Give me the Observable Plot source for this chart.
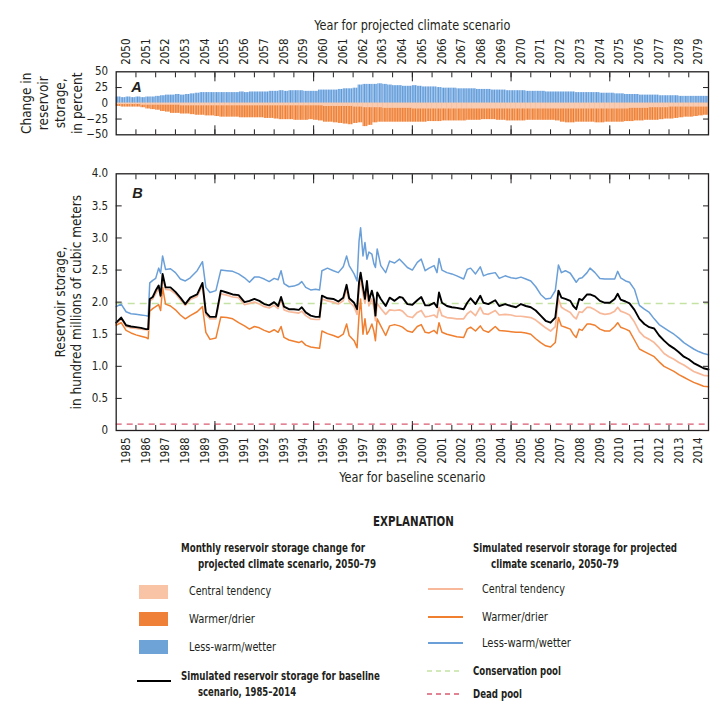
<!DOCTYPE html>
<html><head><meta charset="utf-8">
<script src="https://cdn.jsdelivr.net/npm/d3@7"></script>
<script src="https://cdn.jsdelivr.net/npm/@observablehq/plot@0.6"></script>
<style>
body{margin:0;background:#fff;}
#root{position:relative;width:714px;height:716px;font-family:"Liberation Sans Narrow","DejaVu Sans Condensed","Arial Narrow",sans-serif;color:#231f20;overflow:hidden;}
#root svg{position:absolute;left:0;}
.t{position:absolute;white-space:nowrap;line-height:16px;font-size:12.8px;transform-origin:0 50%;}
.b{font-weight:bold;}
.sw{position:absolute;width:29px;height:14px;}
</style></head><body><div id="root"></div>
<script>
// ---------- DATA ----------
// Panel A: quarterly change in reservoir storage (percent), 2050–2079
const wetterChange = [
 10,9,10,9, 10,9,10,10, 11,12,13,13, 14,13,14,15, 16,17,17,17, 17,17,17,17,
 17,18,17,18, 18,18,18,19, 19,20,19,20, 20,20,19,19, 19,21,21,21, 21,22,23,23,
 24,29,30,30, 30,31,30,29, 28,28,27,27, 28,27,26,26, 26,25,24,24, 24,23,23,23,
 23,22,22,22, 21,21,21,20, 20,20,20,19, 19,19,19,18, 18,18,18,18, 18,17,17,17,
 17,17,16,16, 16,15,15,14, 14,14,13,13, 13,13,12,12, 12,12,11,11, 11,11,11,11];
const drierChange = [
 -5,-6,-6,-6, -6,-7,-9,-10, -11,-13,-14,-16, -16,-17,-17,-18, -19,-19,-20,-20, -21,-22,-22,-22,
 -22,-23,-23,-23, -23,-23,-24,-24, -25,-26,-26,-26, -27,-27,-27,-26, -27,-28,-30,-30, -31,-32,-33,-34,
 -32,-31,-37,-35, -31,-30,-30,-30, -30,-30,-30,-30, -30,-30,-30,-29, -29,-29,-28,-28, -28,-28,-28,-27,
 -27,-27,-26,-26, -26,-27,-27,-28, -28,-28,-28,-27, -27,-27,-27,-27, -27,-28,-30,-31, -31,-30,-30,-30,
 -30,-31,-31,-30, -30,-30,-30,-29, -29,-28,-28,-27, -27,-27,-26,-25, -25,-24,-23,-22, -22,-21,-20,-19];
const centralChange = [
 -2,-2,-2,-2, -2,-3,-3,-3, -3,-3,-3,-3, -3,-4,-4,-4, -4,-4,-4,-4, -4,-4,-4,-4,
 -4,-4,-4,-4, -4,-4,-4,-4, -4,-4,-4,-4, -4,-4,-4,-4, -4,-4,-5,-5, -5,-5,-5,-5,
 -6,-6,-7,-7, -7,-7,-8,-8, -8,-8,-8,-8, -9,-9,-9,-9, -9,-9,-9,-9, -9,-9,-9,-9,
 -9,-9,-9,-9, -9,-9,-9,-9, -9,-9,-9,-9, -9,-9,-9,-9, -9,-9,-9,-9, -9,-9,-9,-9,
 -9,-9,-9,-9, -9,-9,-9,-9, -8,-8,-8,-8, -7,-7,-7,-7, -6,-6,-6,-6, -6,-6,-6,-6];

// Panel B: simulated reservoir storage (hundred millions of cubic meters)
const storageTime = [1985.00,1985.25,1985.50,1985.75,1986.00,1986.25,1986.50,1986.62,1986.70,1986.85,
 1987.00,1987.15,1987.25,1987.35,1987.50,1987.75,1988.00,1988.25,1988.50,1988.75,
 1989.10,1989.37,1989.54,1989.75,1990.05,1990.30,1990.60,1990.90,1991.20,1991.50,
 1991.75,1992.00,1992.25,1992.50,1992.75,1993.00,1993.20,1993.35,1993.50,1993.75,
 1994.00,1994.25,1994.40,1994.60,1994.85,1995.10,1995.30,1995.42,1995.70,1996.00,
 1996.25,1996.50,1996.67,1996.80,1997.05,1997.20,1997.30,1997.38,1997.50,1997.60,
 1997.70,1997.80,1997.95,1998.05,1998.13,1998.22,1998.40,1998.65,1998.85,1999.10,
 1999.35,1999.50,1999.75,2000.00,2000.25,2000.45,2000.65,2000.85,2001.10,2001.25,
 2001.35,2001.50,2001.75,2002.00,2002.25,2002.60,2002.78,2002.95,2003.20,2003.44,
 2003.60,2003.85,2004.20,2004.40,2004.70,2005.00,2005.25,2005.50,2005.75,2006.00,
 2006.25,2006.50,2006.75,2007.00,2007.24,2007.40,2007.55,2007.75,2008.00,2008.15,
 2008.30,2008.45,2008.60,2008.85,2009.00,2009.25,2009.50,2009.75,2010.00,2010.25,
 2010.40,2010.55,2010.80,2011.00,2011.25,2011.50,2011.75,2012.00,2012.25,2012.50,
 2012.75,2013.00,2013.25,2013.50,2013.75,2014.00,2014.25,2014.50,2014.75,2015.00];
const baselineStorage = [1.68,1.76,1.64,1.62,1.61,1.60,1.58,1.58,2.05,2.08,
 2.18,2.26,2.10,2.44,2.23,2.23,2.16,2.07,1.97,2.07,
 2.12,2.30,1.84,1.77,1.77,2.18,2.15,2.12,2.11,2.00,
 2.02,2.05,2.02,1.97,1.95,2.00,1.94,2.08,1.93,1.89,
 1.89,1.88,1.92,1.84,1.79,1.77,1.77,2.10,2.06,2.05,
 2.01,2.07,2.27,2.06,1.99,1.89,2.31,2.46,2.23,2.05,
 2.33,2.02,2.18,2.05,1.79,2.15,2.05,1.94,2.07,2.02,
 2.08,2.07,1.97,1.96,2.03,2.08,1.95,1.95,1.99,1.92,
 2.15,1.99,1.94,1.92,1.91,1.89,1.99,2.06,1.97,2.10,
 1.99,1.97,2.03,1.94,1.97,1.94,1.92,1.97,1.94,1.92,
 1.87,1.79,1.71,1.68,1.76,2.18,2.07,2.05,2.02,1.94,
 1.89,2.05,2.03,2.12,2.12,2.09,2.02,1.99,1.99,2.05,
 2.13,2.04,2.01,1.98,1.88,1.74,1.66,1.61,1.59,1.48,
 1.40,1.33,1.28,1.22,1.15,1.11,1.05,1.01,0.97,0.95];
const centralStorage = [1.66,1.74,1.62,1.60,1.59,1.58,1.57,1.56,2.02,2.05,
 2.13,2.22,2.08,2.38,2.20,2.19,2.13,2.04,1.95,2.04,
 2.09,2.26,1.80,1.74,1.74,2.13,2.11,2.08,2.07,1.96,
 1.98,2.00,1.97,1.93,1.91,1.95,1.90,2.04,1.88,1.85,
 1.84,1.83,1.86,1.79,1.74,1.73,1.73,2.05,2.02,2.00,
 1.97,2.02,2.20,2.01,1.93,1.81,2.20,2.36,2.12,1.98,
 2.22,1.94,2.05,1.92,1.71,1.98,1.90,1.81,1.88,1.87,
 1.88,1.86,1.78,1.76,1.84,1.87,1.77,1.78,1.80,1.76,
 1.92,1.79,1.76,1.75,1.74,1.74,1.82,1.86,1.79,1.92,
 1.82,1.81,1.87,1.80,1.81,1.80,1.78,1.78,1.77,1.76,
 1.72,1.66,1.60,1.55,1.62,2.05,1.92,1.88,1.84,1.78,
 1.74,1.85,1.84,1.92,1.92,1.88,1.83,1.81,1.82,1.86,
 1.92,1.86,1.83,1.80,1.69,1.54,1.46,1.42,1.37,1.29,
 1.20,1.15,1.11,1.06,1.02,0.97,0.92,0.89,0.86,0.85];
const drierStorage = [1.64,1.68,1.56,1.52,1.49,1.47,1.45,1.43,1.86,1.90,
 1.93,1.96,1.87,2.23,1.97,1.94,1.88,1.80,1.74,1.79,
 1.85,1.93,1.53,1.42,1.44,1.77,1.76,1.74,1.68,1.63,
 1.58,1.62,1.60,1.56,1.53,1.57,1.53,1.62,1.45,1.41,
 1.39,1.37,1.39,1.33,1.30,1.29,1.28,1.55,1.51,1.48,
 1.45,1.50,1.66,1.48,1.40,1.29,1.80,2.05,1.50,1.74,
 1.50,1.55,1.66,1.55,1.40,1.74,1.63,1.48,1.63,1.65,
 1.63,1.61,1.55,1.53,1.62,1.65,1.53,1.52,1.56,1.51,
 1.68,1.53,1.50,1.48,1.46,1.45,1.58,1.61,1.55,1.63,
 1.56,1.53,1.62,1.56,1.55,1.54,1.53,1.53,1.52,1.50,
 1.43,1.37,1.32,1.30,1.37,1.76,1.63,1.61,1.58,1.50,
 1.45,1.58,1.56,1.66,1.66,1.64,1.58,1.55,1.55,1.62,
 1.68,1.61,1.58,1.55,1.41,1.27,1.23,1.19,1.15,1.07,
 1.00,0.96,0.92,0.87,0.83,0.79,0.75,0.72,0.69,0.68];
const wetterStorage = [1.93,1.97,1.85,1.82,1.81,1.80,1.79,1.78,2.30,2.34,
 2.37,2.53,2.45,2.72,2.51,2.52,2.46,2.36,2.33,2.38,
 2.49,2.63,2.23,2.15,2.18,2.50,2.49,2.48,2.44,2.38,
 2.31,2.39,2.39,2.36,2.32,2.37,2.35,2.49,2.29,2.24,
 2.25,2.28,2.32,2.23,2.19,2.20,2.19,2.49,2.53,2.49,
 2.46,2.55,2.72,2.57,2.44,2.33,2.95,3.16,2.72,2.93,
 2.67,2.78,2.75,2.60,2.54,2.83,2.57,2.46,2.64,2.61,
 2.67,2.62,2.54,2.50,2.62,2.67,2.49,2.53,2.57,2.46,
 2.68,2.50,2.46,2.44,2.41,2.36,2.51,2.53,2.44,2.55,
 2.41,2.44,2.46,2.37,2.41,2.38,2.37,2.39,2.36,2.33,
 2.24,2.12,2.05,2.06,2.18,2.58,2.46,2.49,2.45,2.38,
 2.31,2.37,2.38,2.46,2.53,2.46,2.37,2.36,2.36,2.36,
 2.48,2.38,2.33,2.31,2.20,1.95,1.89,1.84,1.74,1.65,
 1.60,1.55,1.50,1.44,1.37,1.32,1.27,1.23,1.20,1.18];
const conservationPool = 1.98;
const deadPool = 0.1;

const projectedYears = d3.range(2050, 2080);
const baselineYears = d3.range(1985, 2015);
const changeTicks = [-50, -25, 0, 25, 50];
const storageTicks = [0, 0.5, 1, 1.5, 2, 2.5, 3, 3.5, 4];

// ---------- BUILD ----------
const FONT = '"Liberation Sans Narrow","DejaVu Sans Condensed","Arial Narrow",sans-serif';
const INK = "#231f20";
const COLORS = {wet: "#6a9fd8", dry: "#f07f30", central: "#f7b99a", base: "#000", cons: "#c3e2a3", dead: "#d95b70"};
const bars = wetterChange.map((w, i) => ({
  t0: 2050 + i / 4, t1: 2050 + (i + 1) / 4,
  wet: w, dry: drierChange[i], central: centralChange[i]
}));
const storage = storageTime.map((t, i) => ({
  t, base: baselineStorage[i], central: centralStorage[i], dry: drierStorage[i], wet: wetterStorage[i]
}));

function innerTicksX(years, fiveYears) {
  return [
    Plot.axisX(years, {anchor: "top", tickSize: -5, text: null, label: null, stroke: INK}),
    Plot.axisX(years, {anchor: "bottom", tickSize: -5, text: null, label: null, stroke: INK}),
    Plot.axisX(fiveYears, {anchor: "top", tickSize: -9, text: null, label: null, stroke: INK}),
    Plot.axisX(fiveYears, {anchor: "bottom", tickSize: -9, text: null, label: null, stroke: INK})
  ];
}

const plotA = Plot.plot({
  width: 714, height: 140,
  marginLeft: 115.7, marginRight: 6, marginTop: 71.3, marginBottom: 5.7,
  style: {fontFamily: FONT, fontSize: "11.5px", color: INK, background: "transparent", overflow: "visible"},
  x: {domain: [2050, 2080]},
  y: {domain: [-50, 50]},
  marks: [
    Plot.rectY(bars, {x1: "t0", x2: "t1", y: "wet", fill: "url(#stripeBlue)"}),
    Plot.rectY(bars, {x1: "t0", x2: "t1", y: "dry", fill: "url(#stripeOrange)"}),
    Plot.rectY(bars, {x1: "t0", x2: "t1", y: "central", fill: "#f9ccb1"}),
    Plot.frame({stroke: INK, strokeWidth: 1.3}),
    Plot.axisX(projectedYears.map(d => d + 0.5), {anchor: "top", tickSize: 0, tickPadding: 7, tickRotate: -90, tickFormat: d => String(Math.floor(d)), label: null, fontSize: 11.5}),
    ...innerTicksX(projectedYears.slice(1), projectedYears.filter(d => d % 5 === 0 && d > 2050)),
    Plot.axisY(changeTicks, {anchor: "left", tickSize: 0, tickPadding: 8, label: null, fontSize: 11.5}),
    Plot.axisY([-25, 25], {anchor: "left", tickSize: -6, text: null, label: null}),
    Plot.axisY([-25, 25], {anchor: "right", tickSize: -6, text: null, label: null}),
    Plot.text(["A"], {text: d => d, frameAnchor: "top-left", dx: 15, dy: 10, fontWeight: "bold", fontStyle: "italic", fontSize: 14.5, fontFamily: "Liberation Sans, Arial, sans-serif"}),
    Plot.text(["Year for projected climate scenario"], {text: d => d, frameAnchor: "top", dy: -46, lineAnchor: "middle", fontSize: 13.5}),
    Plot.text(["Change in\nreservoir\nstorage,\nin percent"], {text: d => d, frameAnchor: "left", dx: -65, rotate: -90, textAnchor: "middle", lineAnchor: "middle", lineHeight: 1.24, fontSize: 13.5})
  ]
});

const plotB = Plot.plot({
  width: 714, height: 350,
  marginLeft: 115.7, marginRight: 6, marginTop: 33.3, marginBottom: 60,
  style: {fontFamily: FONT, fontSize: "11.5px", color: INK, background: "transparent", overflow: "visible"},
  x: {domain: [1985, 2015]},
  y: {domain: [0, 4]},
  marks: [
    Plot.ruleY([conservationPool], {stroke: COLORS.cons, strokeDasharray: "7,5", strokeWidth: 1.4}),
    Plot.ruleY([deadPool], {stroke: COLORS.dead, strokeDasharray: "6,5", strokeWidth: 1.3}),
    Plot.line(storage, {x: "t", y: "wet", stroke: COLORS.wet, strokeWidth: 1.5}),
    Plot.line(storage, {x: "t", y: "dry", stroke: COLORS.dry, strokeWidth: 1.5}),
    Plot.line(storage, {x: "t", y: "central", stroke: COLORS.central, strokeWidth: 1.7}),
    Plot.line(storage, {x: "t", y: "base", stroke: COLORS.base, strokeWidth: 1.9}),
    Plot.frame({stroke: INK, strokeWidth: 1.3}),
    Plot.axisX(baselineYears.map(d => d + 0.5), {anchor: "bottom", tickSize: 0, tickPadding: 7, tickRotate: -90, tickFormat: d => String(Math.floor(d)), label: null, fontSize: 11.5}),
    ...innerTicksX(baselineYears.slice(1), baselineYears.filter(d => d % 5 === 0 && d > 1985)),
    Plot.axisY(storageTicks, {anchor: "left", tickSize: 0, tickPadding: 8, label: null, fontSize: 11.5, tickFormat: d => d === 0 ? "0" : d.toFixed(1)}),
    Plot.axisY(storageTicks.slice(1, -1), {anchor: "left", tickSize: -6, text: null, label: null}),
    Plot.axisY(storageTicks.slice(1, -1), {anchor: "right", tickSize: -6, text: null, label: null}),
    Plot.text(["B"], {text: d => d, frameAnchor: "top-left", dx: 16, dy: 14, fontWeight: "bold", fontStyle: "italic", fontSize: 14.5, fontFamily: "Liberation Sans, Arial, sans-serif"}),
    Plot.text(["Year for baseline scenario"], {text: d => d, frameAnchor: "bottom", dy: 47, lineAnchor: "middle", fontSize: 13.5}),
    Plot.text(["Reservoir storage,\nin hundred millions of cubic meters"], {text: d => d, frameAnchor: "left", dx: -48, rotate: -90, textAnchor: "middle", lineAnchor: "middle", lineHeight: 1.19, fontSize: 13.5})
  ]
});

// stripe patterns for the monthly bars (style only)
const defs = d3.select(plotA).insert("defs", ":first-child");
const period = (708 - 115.7) / 360;
[["stripeBlue", "#a3c6ec", "#5e99d8"], ["stripeOrange", "#f6ae7c", "#ee7b2e"]].forEach(([id, bg, fg]) => {
  const p = defs.append("pattern").attr("id", id).attr("patternUnits", "userSpaceOnUse")
    .attr("x", 115.7).attr("width", period).attr("height", 20);
  p.append("rect").attr("width", period).attr("height", 20).attr("fill", bg);
  p.append("rect").attr("width", period * 0.5).attr("height", 20).attr("fill", fg);
});

// condense the axis titles to the reference's narrow type
const titleWidths = {"Year for projected climate scenario": 196, "Year for baseline scenario": 146};
[plotA, plotB].forEach(svg => svg.querySelectorAll("text").forEach(t => {
  const w = titleWidths[t.textContent];
  if (w) { t.setAttribute("textLength", w); t.setAttribute("lengthAdjust", "spacingAndGlyphs"); }
}));

const root = document.getElementById("root");
plotA.style.top = "0px";
plotB.style.top = "140px";
root.appendChild(plotA);
root.appendChild(plotB);

// ---------- LEGEND ----------
const legendItems = [
  {cls: "t b", x: 373, y: 521, w: 81, text: "EXPLANATION", size: 13.5},
  {cls: "t b", x: 181, y: 548, w: 184, text: "Monthly reservoir storage change for"},
  {cls: "t b", x: 198, y: 564, w: 178, text: "projected climate scenario, 2050–79"},
  {cls: "t", x: 189, y: 591, w: 82, text: "Central tendency"},
  {cls: "t", x: 189, y: 619, w: 66, text: "Warmer/drier"},
  {cls: "t", x: 189, y: 647, w: 87, text: "Less-warm/wetter"},
  {cls: "t b", x: 181, y: 676, w: 199, text: "Simulated reservoir storage for baseline"},
  {cls: "t b", x: 198, y: 692, w: 98, text: "scenario, 1985–2014"},
  {cls: "t b", x: 473, y: 548, w: 204, text: "Simulated reservoir storage for projected"},
  {cls: "t b", x: 491, y: 564, w: 128, text: "climate scenario, 2050–79"},
  {cls: "t", x: 482, y: 589, w: 83, text: "Central tendency"},
  {cls: "t", x: 482, y: 617, w: 66, text: "Warmer/drier"},
  {cls: "t", x: 482, y: 643, w: 89, text: "Less-warm/wetter"},
  {cls: "t b", x: 473, y: 671, w: 88, text: "Conservation pool"},
  {cls: "t b", x: 473, y: 694, w: 49, text: "Dead pool"}
];
legendItems.forEach(d => {
  const el = document.createElement("div");
  el.className = d.cls;
  el.style.left = d.x + "px";
  el.style.top = (d.y - 8) + "px";
  if (d.size) el.style.fontSize = d.size + "px";
  el.textContent = d.text;
  root.appendChild(el);
  const w = el.getBoundingClientRect().width;
  el.style.transform = `scaleX(${(d.w / w).toFixed(3)})`;
});
[["#f8c4a5", 585], ["#ef8037", 612], ["#6ea3d8", 640]].forEach(([c, y]) => {
  const el = document.createElement("div");
  el.className = "sw";
  el.style.left = "139px"; el.style.top = y + "px"; el.style.background = c;
  root.appendChild(el);
});
// legend line samples
const lsvg = d3.select(root).append("svg").attr("width", 714).attr("height", 716)
  .style("top", "0px").style("pointer-events", "none");
[[COLORS.base, 137, 171, 681, null, 2], [COLORS.central, 428, 463, 589, null, 2],
 [COLORS.dry, 428, 463, 617, null, 2], [COLORS.wet, 428, 463, 643, null, 2],
 [COLORS.cons, 427, 463, 671, "5,4", 1.5], [COLORS.dead, 427, 463, 694, "5,4", 1.5]]
 .forEach(([c, x1, x2, y, dash, w]) => {
  lsvg.append("line").attr("x1", x1).attr("x2", x2).attr("y1", y).attr("y2", y)
    .attr("stroke", c).attr("stroke-width", w).attr("stroke-dasharray", dash);
});
</script></body></html>
